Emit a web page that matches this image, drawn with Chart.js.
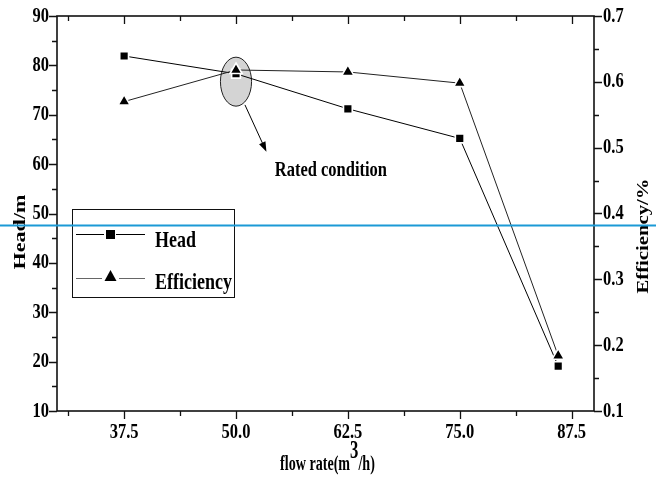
<!DOCTYPE html>
<html><head><meta charset="utf-8">
<script src="https://cdn.jsdelivr.net/npm/chart.js@4/dist/chart.umd.min.js"></script>
<style>html,body{margin:0;padding:0;background:#fff}canvas{display:block}</style>
</head><body>
<canvas id="c" width="656" height="477"></canvas>
<script>
// ---- data ----
const flowRates = [37.5, 50.0, 62.5, 75.0, 86.0];
const headValues = [81.9, 78.3, 71.2, 65.2, 19.1];
const efficiencyValues = [0.570, 0.618, 0.615, 0.598, 0.184];
const xTickValues = [37.5, 50.0, 62.5, 75.0, 87.5];
const xMinorTickValues = [31.25, 43.75, 56.25, 68.75, 81.25];
const headTickValues = [10, 20, 30, 40, 50, 60, 70, 80, 90];
const headMinorTickValues = [15, 25, 35, 45, 55, 65, 75, 85];
const effTickValues = [0.1, 0.2, 0.3, 0.4, 0.5, 0.6, 0.7];
const effMinorTickValues = [0.15, 0.25, 0.35, 0.45, 0.55, 0.65];
const ratedCenter = [50.0, 76.7];      // flow, head
const ratedRadius = [1.74, 4.96];      // flow, head
const arrowFrom = [51.0, 72.0];
const arrowTo = [53.4, 62.5];
const ratedLabelPos = [60.6, 58.8];
const ratedLabel = 'Rated condition';
const blueLineHead = 47.6;

const FONT = "'Liberation Serif','Times New Roman',serif";

function sText(ctx, txt, x, y, size, o) {
  o = o || {};
  ctx.save();
  ctx.translate(x, y);
  if (o.rot) ctx.rotate(o.rot);
  ctx.scale(o.sx || 1, o.sy || 1);
  ctx.font = 'bold ' + size + 'px ' + FONT;
  ctx.textAlign = o.align || 'left';
  ctx.textBaseline = 'middle';
  ctx.fillStyle = '#000';
  ctx.fillText(txt, 0, 0);
  ctx.restore();
}

const deco = {
  id: 'deco',
  beforeDatasetsDraw(chart) {
    const ctx = chart.ctx, x = chart.scales.x, y = chart.scales.y;
    const cx = x.getPixelForValue(ratedCenter[0]), cy = y.getPixelForValue(ratedCenter[1]);
    const rx = Math.abs(x.getPixelForValue(ratedCenter[0] + ratedRadius[0]) - cx);
    const ry = Math.abs(y.getPixelForValue(ratedCenter[1] + ratedRadius[1]) - cy);
    ctx.save();
    ctx.beginPath();
    ctx.ellipse(cx, cy, rx, ry, 0, 0, Math.PI * 2);
    ctx.fillStyle = '#d4d4d4';
    ctx.fill();
    ctx.lineWidth = 1;
    ctx.strokeStyle = '#222';
    ctx.stroke();
    ctx.restore();
  },
  afterDraw(chart) {
    const ctx = chart.ctx, x = chart.scales.x, y = chart.scales.y, y2 = chart.scales.y2;
    const a = chart.chartArea;
    ctx.save();
    // frame
    ctx.strokeStyle = '#111';
    ctx.lineWidth = 1.6;
    ctx.strokeRect(a.left, a.top, a.right - a.left, a.bottom - a.top);
    ctx.lineWidth = 1.3;
    ctx.beginPath();
    xTickValues.forEach(v => { const p = Math.round(x.getPixelForValue(v)) + 0.5;
      ctx.moveTo(p, a.bottom); ctx.lineTo(p, a.bottom + 8);
      ctx.moveTo(p, a.top); ctx.lineTo(p, a.top + 8); });
    xMinorTickValues.forEach(v => { const p = Math.round(x.getPixelForValue(v)) + 0.5;
      ctx.moveTo(p, a.bottom); ctx.lineTo(p, a.bottom + 5);
      ctx.moveTo(p, a.top); ctx.lineTo(p, a.top + 5); });
    headTickValues.forEach(v => { const p = Math.round(y.getPixelForValue(v)) + 0.5;
      ctx.moveTo(a.left, p); ctx.lineTo(a.left - 8, p); });
    headMinorTickValues.forEach(v => { const p = Math.round(y.getPixelForValue(v)) + 0.5;
      ctx.moveTo(a.left, p); ctx.lineTo(a.left - 5, p); });
    effTickValues.forEach(v => { const p = Math.round(y2.getPixelForValue(v)) + 0.5;
      ctx.moveTo(a.right, p); ctx.lineTo(a.right + 8, p); });
    effMinorTickValues.forEach(v => { const p = Math.round(y2.getPixelForValue(v)) + 0.5;
      ctx.moveTo(a.right, p); ctx.lineTo(a.right + 5, p); });
    ctx.stroke();

    // tick labels (positioned by the chart's scales)
    xTickValues.forEach(v => sText(ctx, v.toFixed(1), x.getPixelForValue(v), a.bottom + 21, 16.5, {align: 'center', sy: 1.3}));
    headTickValues.forEach(v => sText(ctx, String(v), a.left - 8, y.getPixelForValue(v), 16.5, {align: 'right', sy: 1.3}));
    effTickValues.forEach(v => sText(ctx, v.toFixed(1), a.right + 9, y2.getPixelForValue(v), 16.5, {align: 'left', sy: 1.3}));

    // arrow
    const x1 = x.getPixelForValue(arrowFrom[0]), y1 = y.getPixelForValue(arrowFrom[1]);
    const x2 = x.getPixelForValue(arrowTo[0]), y2p = y.getPixelForValue(arrowTo[1]);
    const ang = Math.atan2(y2p - y1, x2 - x1);
    ctx.strokeStyle = '#000'; ctx.lineWidth = 1;
    ctx.beginPath(); ctx.moveTo(x1, y1); ctx.lineTo(x2 - 8 * Math.cos(ang), y2p - 8 * Math.sin(ang)); ctx.stroke();
    ctx.beginPath();
    ctx.moveTo(x2, y2p);
    ctx.lineTo(x2 - 10 * Math.cos(ang) + 3.5 * Math.sin(ang), y2p - 10 * Math.sin(ang) - 3.5 * Math.cos(ang));
    ctx.lineTo(x2 - 10 * Math.cos(ang) - 3.5 * Math.sin(ang), y2p - 10 * Math.sin(ang) + 3.5 * Math.cos(ang));
    ctx.closePath(); ctx.fillStyle = '#000'; ctx.fill();

    sText(ctx, ratedLabel, x.getPixelForValue(ratedLabelPos[0]), y.getPixelForValue(ratedLabelPos[1]), 16.5, {align: 'center', sy: 1.3});

    // legend
    ctx.strokeStyle = '#111'; ctx.lineWidth = 1;
    ctx.strokeRect(72.5, 209.5, 162, 88);
    ctx.beginPath(); ctx.strokeStyle = '#000';
    ctx.moveTo(76, 234.5); ctx.lineTo(145, 234.5); ctx.stroke();
    ctx.fillStyle = '#fff'; ctx.fillRect(104, 229, 12, 11);
    ctx.fillStyle = '#000'; ctx.fillRect(106, 230, 9, 9);
    ctx.beginPath(); ctx.strokeStyle = '#666';
    ctx.moveTo(76, 278.5); ctx.lineTo(145, 278.5); ctx.stroke();
    ctx.fillStyle = '#fff'; ctx.fillRect(102, 270, 17, 12);
    ctx.beginPath(); ctx.moveTo(110.5, 270); ctx.lineTo(116.5, 281); ctx.lineTo(104.5, 281); ctx.closePath();
    ctx.fillStyle = '#000'; ctx.fill();
    sText(ctx, 'Head', 155, 241, 18, {sy: 1.3});
    sText(ctx, 'Efficiency', 155, 283, 18, {sy: 1.3});

    // axis titles
    sText(ctx, 'Head/m', 21, 232, 17, {align: 'center', rot: -Math.PI / 2, sx: 1.3});
    sText(ctx, 'Efficiency/%', 644, 236, 17, {align: 'center', rot: -Math.PI / 2, sx: 1.22});
    // x title with superscript
    ctx.font = 'bold 16px ' + FONT;
    const p1 = 'flow rate(m', p3 = '/h)';
    const w1 = ctx.measureText(p1).width, w3 = ctx.measureText(p3).width;
    ctx.font = 'bold 19px ' + FONT;
    const w2 = ctx.measureText('3').width;
    const sx = 0.88;
    const total = (w1 + w2 + w3) * sx;
    const cxT = (a.left + a.right) / 2 + 2;
    let xs = cxT - total / 2;
    sText(ctx, p1, xs, 465, 16, {sx: sx, sy: 1.3});
    sText(ctx, '3', xs + w1 * sx, 452, 19, {sx: sx, sy: 1.3});
    sText(ctx, p3, xs + (w1 + w2) * sx, 465, 16, {sx: sx, sy: 1.3});

    // blue horizontal line across the whole picture
    const by = Math.round(y.getPixelForValue(blueLineHead)) + 0.5;
    ctx.strokeStyle = '#1b9ad6'; ctx.lineWidth = 2;
    ctx.beginPath(); ctx.moveTo(0, by); ctx.lineTo(chart.width, by); ctx.stroke();
    ctx.restore();
  }
};

new Chart(document.getElementById('c'), {
  type: 'line',
  data: {
    datasets: [
      {
        label: 'Head', order: 1,
        data: flowRates.map((f, i) => ({x: f, y: headValues[i]})),
        yAxisID: 'y',
        borderColor: '#000', borderWidth: 1,
        pointStyle: 'rect', pointRadius: 6.2, pointBackgroundColor: '#000', pointBorderColor: '#fff', pointBorderWidth: 1.6
      },
      {
        label: 'Efficiency', order: 0,
        data: flowRates.map((f, i) => ({x: f, y: efficiencyValues[i]})),
        yAxisID: 'y2',
        borderColor: '#222', borderWidth: 1,
        pointStyle: 'triangle', pointRadius: 7, pointBackgroundColor: '#000', pointBorderColor: '#fff', pointBorderWidth: 1.6
      }
    ]
  },
  options: {
    responsive: false, animation: false, devicePixelRatio: 1,
    layout: {padding: {top: 16, left: 0, right: 0, bottom: 0}},
    plugins: {legend: {display: false}, tooltip: {enabled: false}},
    scales: {
      x: {
        type: 'linear', position: 'bottom', min: 30, max: 90,
        afterBuildTicks: s => { s.ticks = xTickValues.map(v => ({value: v})); },
        afterFit: s => { s.height = 66; },
        ticks: {display: false},
        grid: {display: false, drawTicks: false}, border: {display: false}
      },
      y: {
        type: 'linear', position: 'left', min: 10, max: 90,
        afterBuildTicks: s => { s.ticks = headTickValues.map(v => ({value: v})); },
        afterFit: s => { s.width = 57; },
        ticks: {display: false},
        grid: {display: false, drawTicks: false}, border: {display: false}
      },
      y2: {
        type: 'linear', position: 'right', min: 0.1, max: 0.7,
        afterBuildTicks: s => { s.ticks = effTickValues.map(v => ({value: v})); },
        afterFit: s => { s.width = 62; },
        ticks: {display: false},
        grid: {display: false, drawTicks: false}, border: {display: false}
      }
    }
  },
  plugins: [deco]
});
</script>
</body></html>
